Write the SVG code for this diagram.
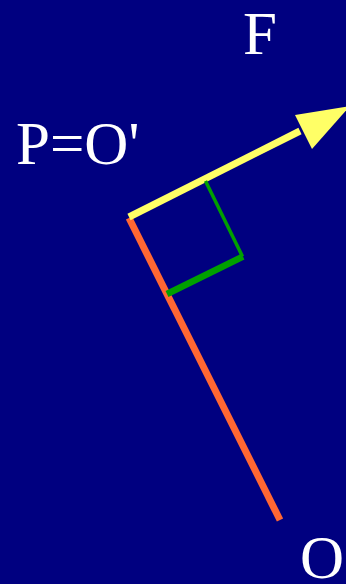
<svg xmlns="http://www.w3.org/2000/svg" width="346" height="584" viewBox="0 0 346 584">
<style>
.t{font-family:'Liberation Serif','Times New Roman',serif;font-size:61px;fill:#ffffff}
.r{stroke:#ff6633;stroke-width:7;fill:none}
.y{stroke:#ffff66;stroke-width:7;fill:none}
.g{stroke:#00a000;fill:none}
</style>
<rect width="346" height="584" fill="#000080"/>
<g id="connectors">
<line class="r" x1="129" y1="218" x2="280" y2="520"/>
<line class="y" x1="129" y1="217" x2="300" y2="131"/>
<polygon points="295,115 312,149 350,106" fill="#ffff66"/>
<line class="g" stroke-width="3.5" x1="205.5" y1="181" x2="242.5" y2="256.5"/>
<line class="g" stroke-width="6.5" x1="243" y1="256.5" x2="167" y2="294"/>
</g>
<g id="label-F"><text class="t" x="243" y="54">F</text></g>
<g id="label-P"><text class="t" x="16" y="164">P=O'</text></g>
<g id="label-O"><text class="t" x="300" y="578">O</text></g>
</svg>
